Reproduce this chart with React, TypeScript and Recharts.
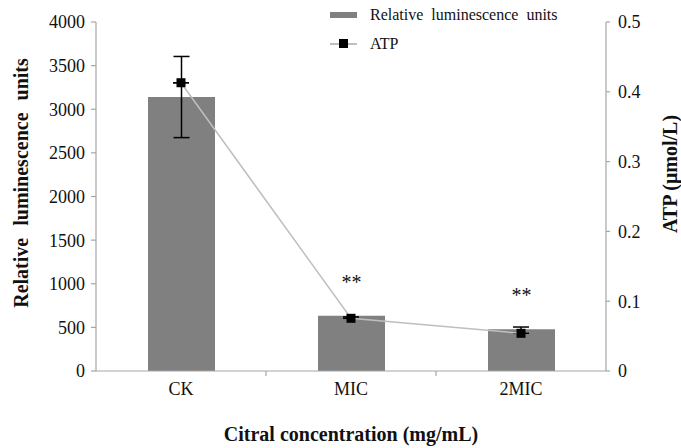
import React from "react";
import { ComposedChart, Bar, Line, XAxis, YAxis, ErrorBar, LabelList, Legend } from "recharts";

const categories = ["CK", "MIC", "2MIC"];
const rlu = [3140, 634, 478];
const rluErr = [465, 0, 0];
const atp = [0.413, 0.0755, 0.054];
const atpErrLow = [0, 0, 0];
const atpErrHigh = [0, 0.002, 0.009];
const sig = ["", "**", "**"];
const leftTicks = [0, 500, 1000, 1500, 2000, 2500, 3000, 3500, 4000];
const rightTicks = [0, 0.1, 0.2, 0.3, 0.4, 0.5];
const xTicks = [0.5, 1, 1.5, 2, 2.5];

const data = categories.map((c, i) => ({
  x: i + 0.5,
  name: c,
  rlu: rlu[i],
  rluErr: rluErr[i],
  atp: atp[i],
  atpErr: [atpErrLow[i], atpErrHigh[i]],
  sig: sig[i],
}));

const AXIS = "#a6a6a6";
const FONT = "'Liberation Serif', 'Times New Roman', serif";

const XTick = (props: any) => {
  const { x, y, payload } = props;
  const v = payload.value;
  if (Number.isInteger(v)) {
    return <line x1={x} y1={y} x2={x} y2={y + 5} stroke={AXIS} strokeWidth={1.2} />;
  }
  return (
    <text x={x} y={y + 24} textAnchor="middle" fontSize={18} fill="#111" fontFamily={FONT}>
      {categories[Math.floor(v)]}
    </text>
  );
};

const SquareDot = (props: any) => {
  const { cx, cy, index } = props;
  return <rect key={`d${index}`} x={cx - 4.5} y={cy - 4.5} width={9} height={9} fill="#000" />;
};

const SigLabel = (props: any) => {
  const { x, y, width, value } = props;
  if (!value) return null;
  return (
    <text x={x + width / 2} y={y - 27} textAnchor="middle" fontSize={20} fill="#111" fontFamily={FONT}>
      {value}
    </text>
  );
};

const LegendContent = () => (
  <div style={{ position: "relative", width: 260, height: 60, fontFamily: FONT, fontSize: 16, color: "#111", wordSpacing: 4 }}>
    <div style={{ position: "absolute", left: 0, top: 12, width: 27, height: 6, background: "#808080" }} />
    <div style={{ position: "absolute", left: 40, top: 5, whiteSpace: "nowrap", lineHeight: "20px" }}>Relative luminescence units</div>
    <div style={{ position: "absolute", left: 0, top: 43, width: 27, height: 1.5, background: "#bfbfbf" }} />
    <div style={{ position: "absolute", left: 9, top: 39, width: 9, height: 9, background: "#000" }} />
    <div style={{ position: "absolute", left: 40, top: 34, whiteSpace: "nowrap", lineHeight: "20px" }}>ATP</div>
  </div>
);

export default function App() {
  return (
    <div style={{ position: "absolute", left: 0, top: 0, width: 681, height: 448, background: "#fff", fontFamily: FONT }}>
      <style>{`.recharts-wrapper text, .recharts-text { font-family: ${FONT}; }`}</style>
      <ComposedChart width={681} height={448} data={data} margin={{ top: 22, right: 0, bottom: 0, left: 0 }}>
        <XAxis
          dataKey="x"
          type="number"
          domain={[0, 3]}
          ticks={xTicks}
          interval={0}
          tickSize={0}
          tickMargin={0}
          tickLine={false}
          axisLine={{ stroke: AXIS, strokeWidth: 1.2 }}
          tick={<XTick />}
          height={77}
          label={{
            content: () => (
              <text x={351} y={441} textAnchor="middle" fontSize={20} fontWeight="bold" fill="#111" fontFamily={FONT}>
                Citral concentration (mg/mL)
              </text>
            ),
          }}
        />
        <YAxis
          yAxisId="l"
          domain={[0, 4000]}
          ticks={leftTicks}
          interval={0}
          width={96}
          tickSize={5}
          tickMargin={6}
          axisLine={{ stroke: AXIS, strokeWidth: 1.2 }}
          tickLine={{ stroke: AXIS, strokeWidth: 1.2 }}
          tick={{ fontSize: 18, fill: "#111", fontFamily: FONT }}
          label={{
            content: () => (
              <text
                x={28}
                y={183}
                transform="rotate(-90 28 183)"
                textAnchor="middle"
                fontSize={20}
                fontWeight="bold"
                fill="#111"
                fontFamily={FONT}
                style={{ wordSpacing: 7 }}
              >
                Relative luminescence units
              </text>
            ),
          }}
        />
        <YAxis
          yAxisId="r"
          orientation="right"
          domain={[0, 0.5]}
          ticks={rightTicks}
          interval={0}
          width={75}
          tickSize={4}
          tickMargin={8}
          axisLine={{ stroke: AXIS, strokeWidth: 1.2 }}
          tickLine={{ stroke: AXIS, strokeWidth: 1.2 }}
          tick={{ fontSize: 18, fill: "#111", fontFamily: FONT }}
          label={{
            content: () => (
              <text
                x={677}
                y={174}
                transform="rotate(-90 677 174)"
                textAnchor="middle"
                fontSize={20}
                fontWeight="bold"
                fill="#111"
                fontFamily={FONT}
              >
                ATP (μmol/L)
              </text>
            ),
          }}
        />
        <Legend
          layout="horizontal"
          verticalAlign="middle"
          align="center"
          content={<LegendContent />}
          wrapperStyle={{ position: "absolute", left: 330, top: 0, width: 260, height: 60 }}
        />
        <Bar yAxisId="l" dataKey="rlu" fill="#808080" barSize={67} isAnimationActive={false}>
          <ErrorBar dataKey="rluErr" direction="y" width={8} stroke="#000" strokeWidth={1.5} />
          <LabelList dataKey="sig" content={<SigLabel />} />
        </Bar>
        <Line
          yAxisId="r"
          dataKey="atp"
          stroke="#bfbfbf"
          strokeWidth={1.5}
          dot={<SquareDot />}
          activeDot={false}
          isAnimationActive={false}
        >
          <ErrorBar dataKey="atpErr" direction="y" width={8} stroke="#000" strokeWidth={1.5} />
        </Line>
      </ComposedChart>
    </div>
  );
}
